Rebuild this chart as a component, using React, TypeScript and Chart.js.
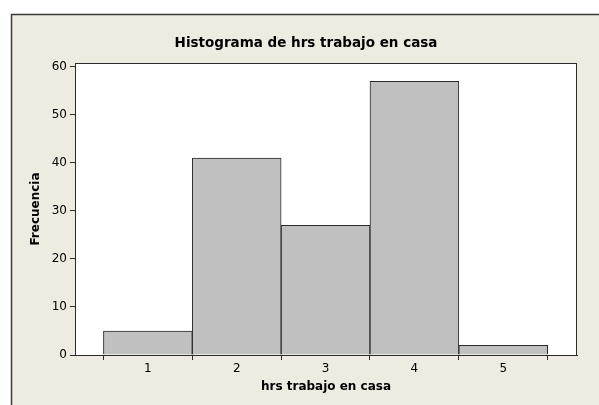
import React, { useEffect, useRef } from "react";
import { Chart, registerables } from "chart.js";

Chart.register(...registerables);

const title = "Histograma de hrs trabajo en casa";
const xTitle = "hrs trabajo en casa";
const yTitle = "Frecuencia";
const binCenters = [1, 2, 3, 4, 5];
const frequencies = [5, 41, 27, 57, 2];
const xTickValues = [1, 2, 3, 4, 5];
const yTickValues = [0, 10, 20, 30, 40, 50, 60];

const FRAME_BG = "#EEEBE1";
const LINE = "#2b2b2b";
const FONT = "'DejaVu Sans', Tahoma, sans-serif";

const framePlugin = {
  id: "frame",
  beforeDraw(chart: any) {
    const { ctx, width, height, chartArea } = chart;
    ctx.save();
    ctx.fillStyle = "#ffffff";
    ctx.fillRect(0, 0, width, height);
    ctx.fillStyle = FRAME_BG;
    ctx.fillRect(11, 14, width - 11, height - 14);
    ctx.strokeStyle = "#3a3a3a";
    ctx.lineWidth = 1.5;
    ctx.beginPath();
    ctx.moveTo(11.5, height);
    ctx.lineTo(11.5, 14.5);
    ctx.lineTo(width, 14.5);
    ctx.stroke();
    ctx.fillStyle = "#ffffff";
    ctx.fillRect(chartArea.left, chartArea.top, chartArea.right - chartArea.left, chartArea.bottom - chartArea.top);
    ctx.restore();
  },
  afterDraw(chart: any) {
    const { ctx, chartArea } = chart;
    ctx.save();
    ctx.strokeStyle = LINE;
    ctx.lineWidth = 1;
    ctx.strokeRect(chartArea.left + 0.5, chartArea.top + 0.5, chartArea.right - chartArea.left - 1, chartArea.bottom - chartArea.top);
    ctx.fillStyle = "#000000";
    ctx.textAlign = "center";
    ctx.textBaseline = "middle";
    ctx.font = `bold 13.5px ${FONT}`;
    ctx.fillText(title, 306, 43);
    ctx.font = `bold 12px ${FONT}`;
    ctx.fillText(xTitle, (chartArea.left + chartArea.right) / 2, 387);
    ctx.translate(36, (chartArea.top + chartArea.bottom) / 2);
    ctx.rotate(-Math.PI / 2);
    ctx.fillText(yTitle, 0, 0);
    ctx.restore();
  },
};

export default function App() {
  const ref = useRef<HTMLCanvasElement>(null);
  useEffect(() => {
    document.body.style.margin = "0";
    const canvas = ref.current!;
    const chart = new Chart(canvas, {
      type: "bar",
      data: {
        datasets: [
          {
            data: binCenters.map((x, i) => ({ x, y: frequencies[i] })),
            backgroundColor: "#C0C0C0",
            borderColor: LINE,
            borderWidth: 1,
            barPercentage: 1,
            categoryPercentage: 1,
          },
        ],
      },
      options: {
        animation: false,
        responsive: false,
        devicePixelRatio: 1,
        layout: { padding: { top: 63, left: 0, right: 22, bottom: 0 } },
        plugins: { legend: { display: false }, tooltip: { enabled: false }, title: { display: false } },
        scales: {
          x: {
            type: "linear",
            min: 0.18,
            max: 5.83,
            offset: false,
            afterBuildTicks: (s: any) => {
              s.ticks = xTickValues.map((v) => ({ value: v }));
            },
            afterFit: (s: any) => {
              s.height = 50;
            },
            grid: { display: true, drawOnChartArea: false, drawTicks: true, tickLength: 5, color: LINE },
            border: { display: true, color: LINE },
            ticks: { color: "#000", font: { family: FONT, size: 12 }, padding: 2, maxRotation: 0 },
            title: { display: false },
          },
          y: {
            min: 0,
            max: 60.8,
            afterBuildTicks: (s: any) => {
              s.ticks = yTickValues.map((v) => ({ value: v }));
            },
            afterFit: (s: any) => {
              s.width = 75;
            },
            grid: { display: true, drawOnChartArea: false, drawTicks: true, tickLength: 5, color: LINE },
            border: { display: true, color: LINE },
            ticks: { color: "#000", font: { family: FONT, size: 12 }, padding: 3 },
            title: { display: false },
          },
        },
      } as any,
      plugins: [framePlugin],
    });
    return () => chart.destroy();
  }, []);
  return (
    <canvas
      ref={ref}
      width={599}
      height={405}
      style={{ position: "absolute", left: 0, top: 0, width: 599, height: 405 }}
    />
  );
}
